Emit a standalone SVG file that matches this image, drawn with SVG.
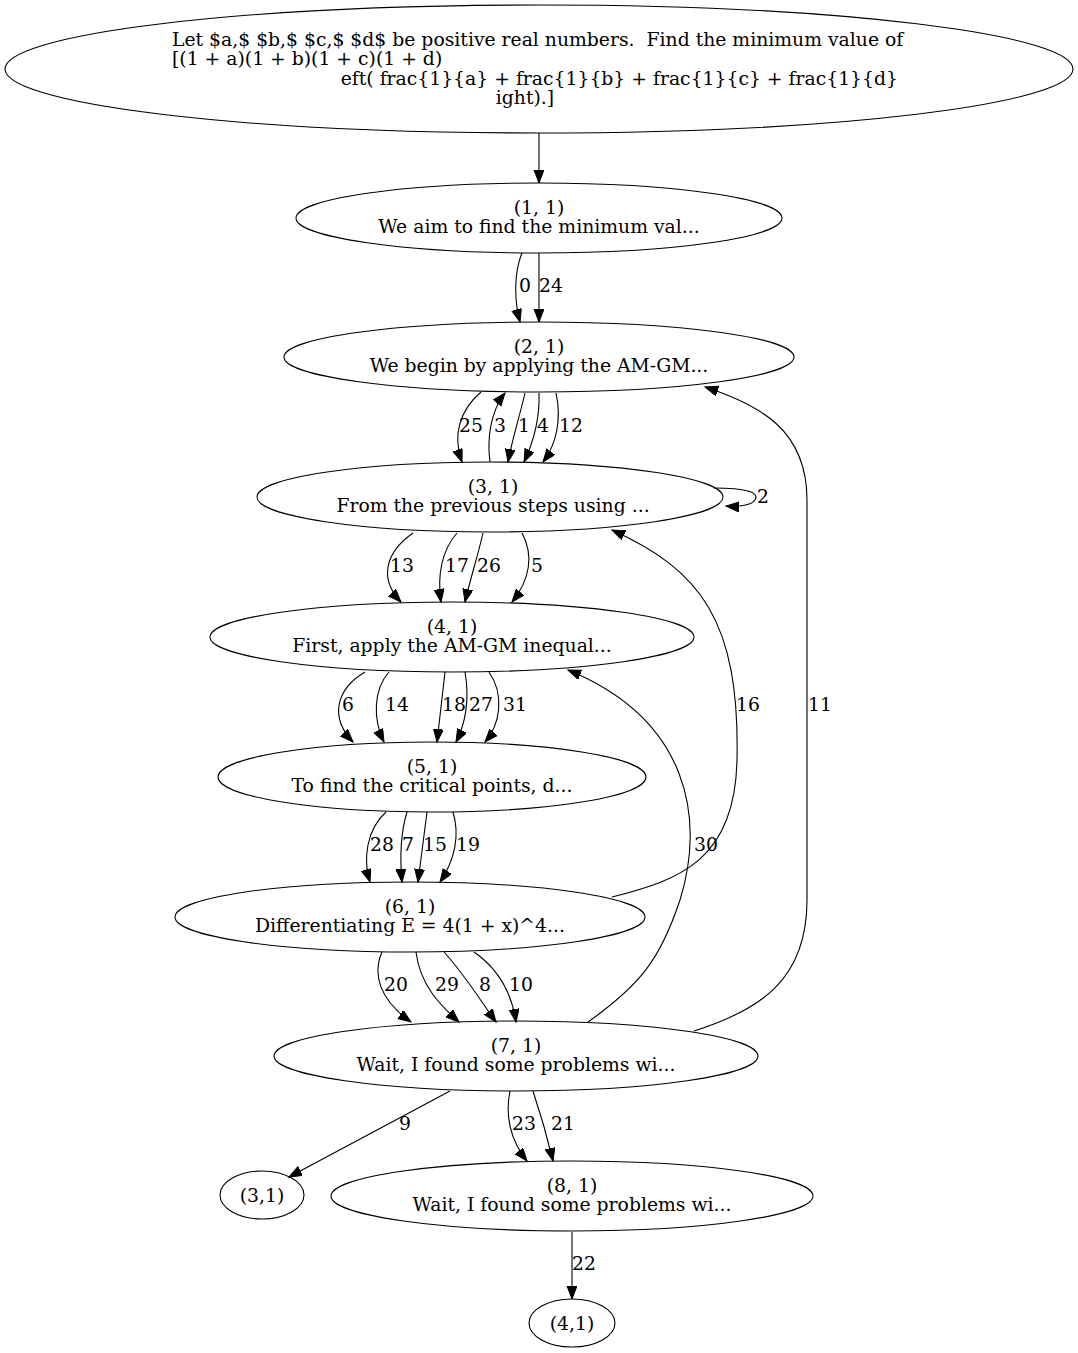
<svg xmlns="http://www.w3.org/2000/svg" width="1078" height="1353" viewBox="0 0 1078 1353">
<style>
text{font-family:"DejaVu Serif","Liberation Serif",serif;font-size:18.8px;fill:#000;white-space:pre}
.m{text-anchor:middle}
.e{text-anchor:end}
ellipse{fill:none;stroke:#000;stroke-width:1.1}
#edges path{fill:none;stroke:#000;stroke-width:1.1;marker-end:url(#ah)}
</style>
<defs>
<marker id="ah" markerUnits="userSpaceOnUse" markerWidth="15" markerHeight="12" refX="13" refY="5" orient="auto">
<path d="M0,0 L13,5 L0,10 z" fill="#000" stroke="#000" stroke-width="1"/>
</marker>
</defs>
<rect width="1078" height="1353" fill="#fff"/>
<g id="edges">
<path d="M539,133 L539,183"/>
<path d="M522,253 C514,272 514,300 520,322"/>
<path d="M539,253 L539,322"/>
<path d="M481,392 C460,410 452,435 462,462"/>
<path d="M490,462 C487,440 490,412 505,393"/>
<path d="M525,393 C520,415 512,440 508,462"/>
<path d="M539,393 C540,420 532,445 524,462"/>
<path d="M556,393 C562,420 556,445 543,462"/>
<path d="M714,488 C745,488 760,492 755,500 C752,505 740,507 726,506"/>
<path d="M413,533 C386,552 378,578 401,602"/>
<path d="M457,533 C442,550 437,575 441,602"/>
<path d="M483,533 C478,555 470,580 465,602"/>
<path d="M522,533 C534,555 530,580 512,602"/>
<path d="M612,897 C680,880 735,860 737,760 C740,620 700,570 612,530"/>
<path d="M365,672 C335,690 330,718 353,742"/>
<path d="M389,672 C373,690 373,720 384,742"/>
<path d="M445,672 L437,742"/>
<path d="M465,672 C470,700 465,725 456,742"/>
<path d="M489,672 C505,695 500,725 485,742"/>
<path d="M588,1022 C640,985 660,960 680,900 C705,820 690,720 568,670"/>
<path d="M386,812 C366,830 363,860 370,882"/>
<path d="M407,812 C400,835 400,860 402,882"/>
<path d="M427,812 L418,882"/>
<path d="M453,812 C460,835 455,860 440,882"/>
<path d="M382,952 C372,975 380,1000 411,1022"/>
<path d="M416,952 C420,985 440,1005 459,1022"/>
<path d="M444,952 C465,975 480,1000 496,1022"/>
<path d="M474,952 C500,970 512,995 516,1022"/>
<path d="M694,1031 C760,1010 807,980 807,900 L807,500 C807,430 760,405 705,387"/>
<path d="M450,1091 L289,1177"/>
<path d="M510,1091 C505,1115 510,1140 527,1161"/>
<path d="M533,1091 C541,1115 548,1140 553,1161"/>
<path d="M572,1232 L572,1299"/>
<text class="m" x="525" y="292">0</text>
<text class="m" x="551" y="292">24</text>
<text class="m" x="471" y="432">25</text>
<text class="m" x="500" y="432">3</text>
<text class="m" x="524" y="432">1</text>
<text class="m" x="543" y="432">4</text>
<text class="m" x="571" y="432">12</text>
<text class="m" x="763" y="503">2</text>
<text class="m" x="402" y="572">13</text>
<text class="m" x="457" y="572">17</text>
<text class="m" x="489" y="572">26</text>
<text class="m" x="537" y="572">5</text>
<text class="m" x="748" y="711">16</text>
<text class="m" x="348" y="711">6</text>
<text class="m" x="397" y="711">14</text>
<text class="m" x="454" y="711">18</text>
<text class="m" x="481" y="711">27</text>
<text class="m" x="515" y="711">31</text>
<text class="m" x="820" y="711">11</text>
<text class="m" x="706" y="851">30</text>
<text class="m" x="382" y="851">28</text>
<text class="m" x="408" y="851">7</text>
<text class="m" x="435" y="851">15</text>
<text class="m" x="468" y="851">19</text>
<text class="m" x="396" y="991">20</text>
<text class="m" x="447" y="991">29</text>
<text class="m" x="485" y="991">8</text>
<text class="m" x="521" y="991">10</text>
<text class="m" x="405" y="1130">9</text>
<text class="m" x="524" y="1130">23</text>
<text class="m" x="563" y="1130">21</text>
<text class="m" x="584" y="1270">22</text>
</g>
<g id="n0">
<ellipse cx="539" cy="69" rx="534" ry="64"/>
<text x="172" y="45.5">Let $a,$ $b,$ $c,$ $d$ be positive real numbers.  Find the minimum value of</text>
<text x="172" y="65">[(1 + a)(1 + b)(1 + c)(1 + d)</text>
<text class="e" x="898" y="84.5">eft( frac{1}{a} + frac{1}{b} + frac{1}{c} + frac{1}{d}</text>
<text class="m" x="525" y="104">ight).]</text>
</g>
<g id="n1">
<ellipse cx="539" cy="218" rx="243" ry="35"/>
<text class="m" x="539" y="213.5">(1, 1)</text>
<text class="m" x="539" y="233">We aim to find the minimum val...</text>
</g>
<g id="n2">
<ellipse cx="539" cy="357" rx="255" ry="35"/>
<text class="m" x="539" y="352.5">(2, 1)</text>
<text class="m" x="539" y="372">We begin by applying the AM-GM...</text>
</g>
<g id="n3">
<ellipse cx="490" cy="497" rx="233" ry="35"/>
<text class="m" x="493" y="492.5">(3, 1)</text>
<text class="m" x="493" y="512">From the previous steps using ...</text>
</g>
<g id="n4">
<ellipse cx="452" cy="637" rx="242" ry="35"/>
<text class="m" x="452" y="632.5">(4, 1)</text>
<text class="m" x="452" y="652">First, apply the AM-GM inequal...</text>
</g>
<g id="n5">
<ellipse cx="432" cy="777" rx="214" ry="35"/>
<text class="m" x="432" y="772.5">(5, 1)</text>
<text class="m" x="432" y="792">To find the critical points, d...</text>
</g>
<g id="n6">
<ellipse cx="410" cy="917" rx="235" ry="35"/>
<text class="m" x="410" y="912.5">(6, 1)</text>
<text class="m" x="410" y="932">Differentiating E = 4(1 + x)^4...</text>
</g>
<g id="n7">
<ellipse cx="516" cy="1056" rx="242" ry="35"/>
<text class="m" x="516" y="1051.5">(7, 1)</text>
<text class="m" x="516" y="1071">Wait, I found some problems wi...</text>
</g>
<g id="n8">
<ellipse cx="262" cy="1195" rx="42" ry="24"/>
<text class="m" x="262" y="1201.5">(3,1)</text>
</g>
<g id="n9">
<ellipse cx="572" cy="1196" rx="241" ry="35"/>
<text class="m" x="572" y="1191.5">(8, 1)</text>
<text class="m" x="572" y="1211">Wait, I found some problems wi...</text>
</g>
<g id="n10">
<ellipse cx="572" cy="1323" rx="43" ry="24"/>
<text class="m" x="572" y="1329.5">(4,1)</text>
</g>
</svg>
